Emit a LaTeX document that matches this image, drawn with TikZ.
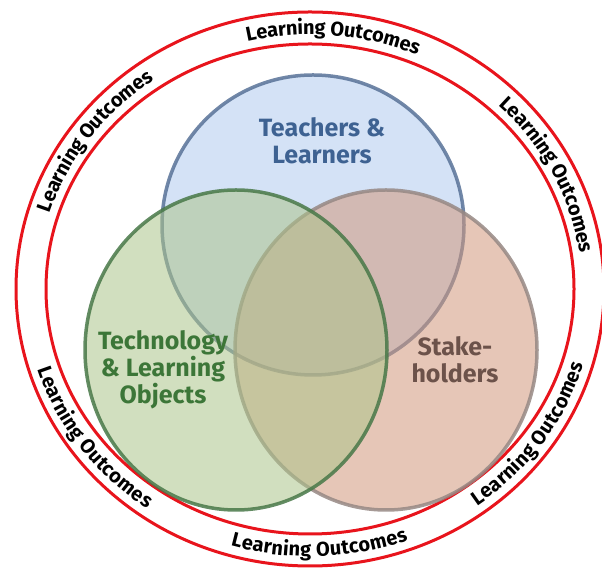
\documentclass[tikz,border=0pt]{standalone}
\usepackage{fontspec}
\setmainfont{Fira Sans}
\usetikzlibrary{decorations.text}

\definecolor{ringred}{HTML}{E8141C}
\definecolor{tlfill}{RGB}{176,202,238}
\definecolor{tldraw}{RGB}{88,114,152}
\definecolor{tltext}{RGB}{62,98,146}
\definecolor{tofill}{RGB}{172,196,138}
\definecolor{todraw}{RGB}{72,120,72}
\definecolor{totext}{RGB}{60,118,56}
\definecolor{shfill}{RGB}{210,152,124}
\definecolor{shdraw}{RGB}{150,136,132}
\definecolor{shtext}{RGB}{108,82,74}

\tikzset{
  ring/.style={draw=ringred, line width=3pt},
  venn/.style={line width=3.5pt, fill opacity=0.55, draw opacity=0.85},
  venntext/.style={align=center, font=\fontsize{25}{27}\selectfont\bfseries},
  ringtext/.style={decorate, decoration={text along path, text align=center,
      raise=-6.5pt, text={|\fontsize{20}{21}\selectfont\bfseries|Learning Outcomes}}}
}

\begin{document}
\begin{tikzpicture}[x=1pt, y=1pt]
    \useasboundingbox (0,0) rectangle (602,569);

    % outer band
    \draw[ring] (310,280) ellipse [x radius=294, y radius=277];
    \draw[ring] (310,280) ellipse [x radius=264, y radius=245];

    % band labels, upper ones clockwise, lower ones anticlockwise
    \foreach \mid in {85, 144, 27}
        \path[ringtext] (310,280) ++(\mid+30:279 and 261)
            arc[start angle=\mid+30, end angle=\mid-30, x radius=279, y radius=261];
    \foreach \mid in {216, 272, 325}
        \path[ringtext] (310,280) ++(\mid-30:279 and 261)
            arc[start angle=\mid-30, end angle=\mid+30, x radius=279, y radius=261];

    % the three sets, technology on top
    \draw[venn, fill=tlfill, draw=tldraw] (313,344) ellipse [x radius=151, y radius=150];
    \draw[venn, fill=shfill, draw=shdraw] (386,219) ellipse [x radius=151, y radius=160];
    \draw[venn, fill=tofill, draw=todraw] (236,219) ellipse [x radius=151, y radius=160];

    \node[venntext, text=tltext] (teachers) at (322,428) {Teachers \&\\Learners};
    \node[venntext, text=totext] (technology) at (163,199) {Technology\\\& Learning\\Objects};
    \node[venntext, text=shtext] (stakeholders) at (455,209) {Stake-\\holders};
\end{tikzpicture}
\end{document}
